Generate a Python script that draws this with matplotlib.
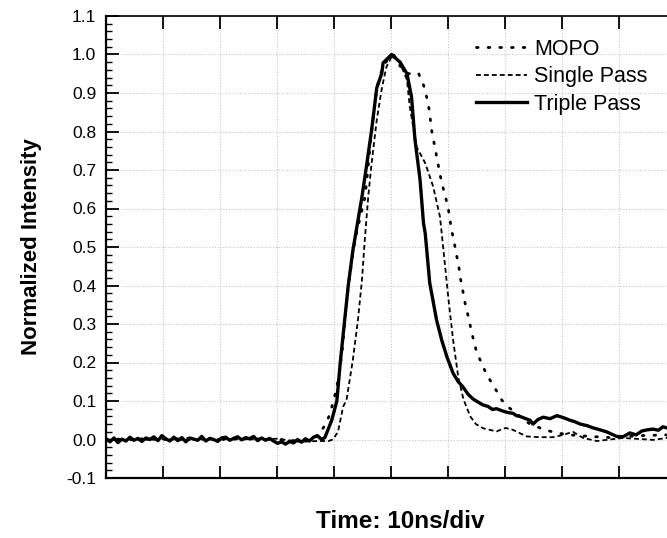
"""Normalized pulse shapes: MOPO vs single pass vs triple pass."""

import matplotlib
matplotlib.use("Agg")
import matplotlib.pyplot as plt
from matplotlib.ticker import MultipleLocator, FormatStrFormatter

plt.rcParams["font.family"] = ["Liberation Sans", "DejaVu Sans"]
plt.rcParams["axes.unicode_minus"] = False

# time in ns (10 ns / div)
mopo_t = [0, 5, 10, 15, 20, 25, 30, 34, 36.5, 37.5, 38.7, 39.4, 40.4, 41.1, 41.4,
          42.5, 43.7, 44.9, 45.4, 45.7, 46.6, 47.5, 48.6, 50.1, 51.6, 53.0, 54.8,
          55.7, 56.3, 56.7, 57.2, 57.7, 58.0, 58.9, 59.5, 60.1, 60.6, 61.1, 61.5,
          61.9, 62.2, 62.6, 63.0, 63.5, 64.0, 64.4, 65.0, 65.9, 66.8, 68.1, 69.4,
          70.5, 71.8, 73.0, 74.4, 77.0, 79.1, 81.4, 84.9, 88.4, 93.7, 98.4, 100]
mopo_y = [0.0, 0.002, 0.0, 0.003, 0.0, 0.002, 0.0, -0.004, 0.004, 0.017, 0.043,
          0.072, 0.129, 0.19, 0.225, 0.40, 0.52, 0.596, 0.627, 0.666, 0.80, 0.913,
          0.97, 1.0, 0.97, 0.95, 0.952, 0.921, 0.887, 0.856, 0.796, 0.76, 0.735,
          0.666, 0.635, 0.595, 0.546, 0.511, 0.479, 0.449, 0.417, 0.386, 0.354,
          0.323, 0.289, 0.263, 0.228, 0.198, 0.168, 0.137, 0.103, 0.085, 0.07,
          0.055, 0.04, 0.025, 0.017, 0.012, 0.008, 0.005, 0.01, 0.012, 0.012]

single_t = [0, 5, 10, 15, 20, 25, 30, 34, 37, 39.0, 39.8, 40.7, 41.6, 42.2, 43.3,
            44.2, 44.9, 45.4, 46.0, 46.6, 47.5, 48.4, 49.2, 50.1, 50.5, 51.6, 52.8,
            53.3, 54.5, 56.0, 57.4, 58.6, 59.2, 60.1, 60.9, 61.8, 62.7, 63.9, 64.9,
            66.2, 68.5, 70.1, 71.4, 73.8, 76.1, 78.4, 80.2, 81.9, 83.7, 86.1, 90.7,
            96.0, 98.4, 100]
single_y = [0.0, -0.002, 0.001, -0.002, 0.002, 0.0, 0.002, -0.006, -0.004, -0.004,
            0.0, 0.02, 0.085, 0.103, 0.206, 0.31, 0.414, 0.518, 0.63, 0.718, 0.83,
            0.913, 0.968, 0.994, 1.0, 0.977, 0.934, 0.864, 0.76, 0.718, 0.657, 0.578,
            0.492, 0.362, 0.258, 0.162, 0.105, 0.06, 0.04, 0.029, 0.021, 0.03, 0.025,
            0.008, 0.006, 0.006, 0.012, 0.02, 0.004, -0.004, 0.004, -0.001, 0.004,
            0.005]

triple_t = [0, 0.7, 1.4, 2.1, 2.8, 3.5, 4.2, 4.9, 5.6, 6.3, 7.0, 7.7, 8.4, 9.1, 9.8,
            10.5, 11.2, 11.9, 12.6, 13.3, 14.0, 14.7, 15.4, 16.1, 16.8, 17.5, 18.2,
            18.9, 19.6, 20.3, 21.0, 21.7, 22.4, 23.1, 23.8, 24.5, 25.2, 25.9, 26.6,
            27.3, 28.0, 28.7, 29.4, 30.1, 30.8, 31.5, 32.2, 32.9, 33.6, 34.3, 35.0,
            35.7, 36.4, 37.1, 37.8, 38.4, 39.6, 40.5, 41.1, 41.8, 42.5, 43.3, 44.1,
            44.9, 45.7, 46.6, 47.5, 48.4, 48.6, 50.1, 51.6, 52.8, 53.6, 54.2, 55.1,
            55.7, 56.0, 56.8, 58.0, 58.9, 59.8, 60.9, 61.8, 62.6, 63.5, 64.4, 65.2,
            66.1, 67.0, 67.8, 68.5, 69.6, 70.5, 71.4, 72.0, 72.6, 73.5, 74.4, 74.9,
            75.8, 76.7, 77.9, 79.1, 80.2, 81.4, 82.3, 83.2, 84.4, 85.5, 86.7, 87.8,
            88.7, 89.6, 90.7, 91.9, 93.0, 94.0, 94.9, 96.0, 96.9, 97.7, 98.4, 100]
triple_y = [0.002, -0.006, 0.004, -0.008, 0.001, -0.004, 0.006, -0.002, 0.003,
            -0.005, 0.004, 0.000, 0.007, -0.003, 0.010, 0.002, -0.004, 0.006, -0.003,
            0.005, -0.006, 0.004, 0.001, -0.002, 0.008, -0.004, 0.003, 0.000, -0.005,
            0.004, 0.006, -0.002, 0.003, 0.007, -0.001, 0.005, 0.002, 0.008, -0.003,
            0.004, -0.002, 0.003, -0.004, -0.010, -0.006, -0.012, -0.005, -0.009,
            0.000, -0.007, 0.002, -0.004, 0.006, 0.010, 0.000, 0.005, 0.05, 0.10,
            0.20, 0.30, 0.40, 0.49, 0.56, 0.63, 0.71, 0.804, 0.913, 0.952, 0.978,
            1.0, 0.98, 0.95, 0.89, 0.78, 0.674, 0.562, 0.536, 0.406, 0.31, 0.258,
            0.215, 0.172, 0.150, 0.137, 0.118, 0.105, 0.098, 0.090, 0.086, 0.078,
            0.080, 0.074, 0.070, 0.068, 0.062, 0.060, 0.055, 0.050, 0.040, 0.052,
            0.058, 0.054, 0.062, 0.057, 0.050, 0.046, 0.040, 0.036, 0.030, 0.025,
            0.020, 0.014, 0.008, 0.007, 0.017, 0.012, 0.022, 0.025, 0.027, 0.024,
            0.033, 0.030, 0.030]

fig = plt.figure(figsize=(6.67, 5.38), dpi=100)
# axes right edge runs past the picture edge like the original export
ax = fig.add_axes([106 / 667, 60 / 538, 570 / 667, 462 / 538])

ax.plot(mopo_t, mopo_y, color="black", lw=2.0, linestyle=(0, (0.6, 3.6)),
        dash_capstyle="round", label="MOPO", zorder=3)
ax.plot(single_t, single_y, color="black", lw=1.3, linestyle=(0, (2.7, 1.7)),
        label="Single Pass", zorder=4)
ax.plot(triple_t, triple_y, color="black", lw=2.4, label="Triple Pass", zorder=5)

ax.set_xlim(0, 100)
ax.set_ylim(-0.1, 1.1)
ax.xaxis.set_major_locator(MultipleLocator(10))
ax.yaxis.set_major_locator(MultipleLocator(0.1))
ax.yaxis.set_minor_locator(MultipleLocator(0.02))
ax.yaxis.set_major_formatter(FormatStrFormatter("%.1f"))
ax.set_xticklabels([])

ax.tick_params(axis="both", which="major", direction="in", length=9, width=1.3,
               top=True, right=False, labelsize=12.5, pad=7)
ax.tick_params(axis="y", which="minor", direction="in", length=4, width=1.0)
ax.tick_params(axis="x", which="minor", bottom=False, top=False)

for side in ["left", "bottom"]:
    ax.spines[side].set_linewidth(1.6)
ax.spines["top"].set_linewidth(1.2)

ax.grid(True, which="major", color="#c8c8c8", linestyle=(0, (1, 1.5)), lw=0.8)
ax.set_axisbelow(True)

fig.text(32 / 667, 1 - 247 / 538, "Normalized Intensity", rotation=90,
         ha="center", va="center", fontsize=16, fontweight="bold")
fig.text(400 / 667, 1 - 521 / 538, "Time: 10ns/div", ha="center", va="center",
         fontsize=17.5, fontweight="bold")

ax.legend(loc="upper left", bbox_to_anchor=(476 / 667, 1 - 39 / 538),
          bbox_transform=fig.transFigure, frameon=False, fontsize=15.5,
          handlelength=2.35, handletextpad=0.35, labelspacing=0.3, borderpad=0,
          borderaxespad=0)

fig.savefig("out.png", dpi=100)
